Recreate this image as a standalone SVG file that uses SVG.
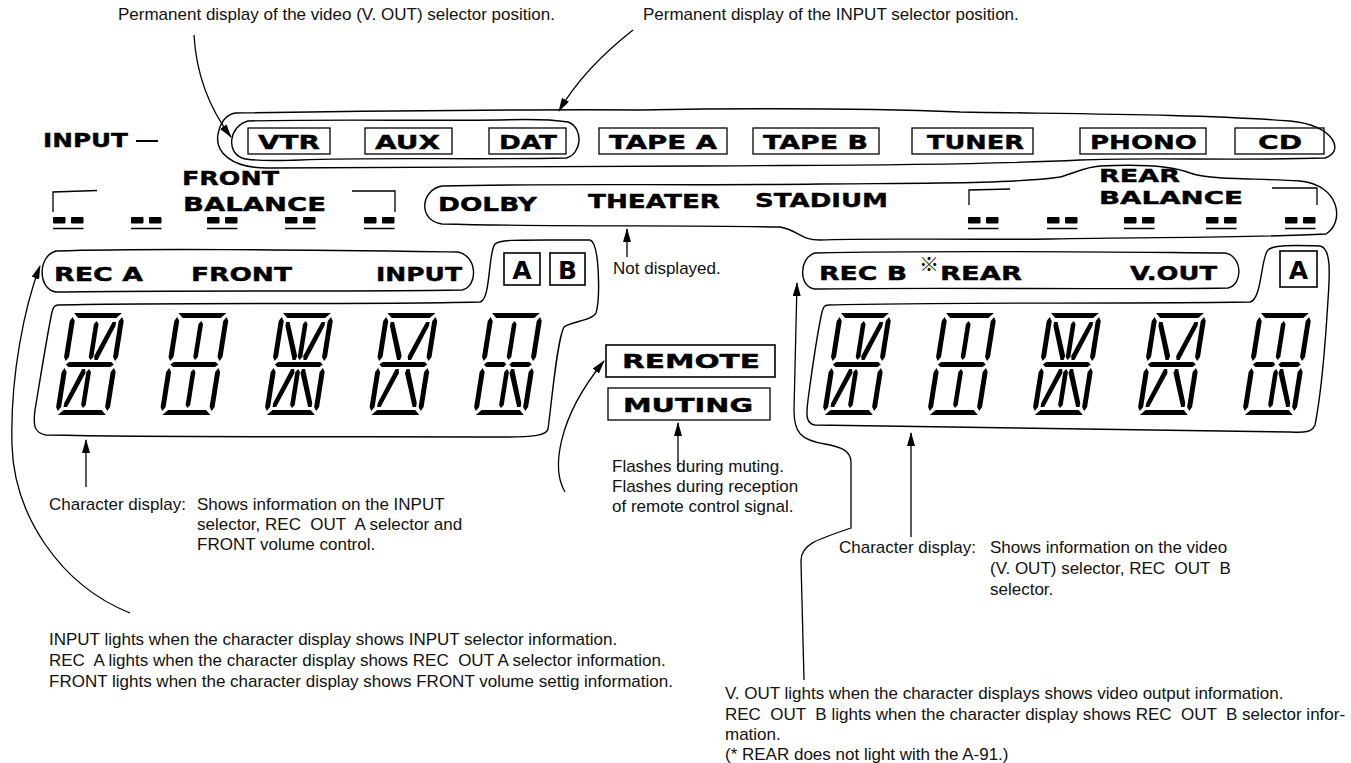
<svg xmlns="http://www.w3.org/2000/svg" xmlns:xlink="http://www.w3.org/1999/xlink" width="1351" height="763" viewBox="0 0 1351 763">
  <style>
    .lbl { font-family: "DejaVu Sans", "Liberation Sans", sans-serif; font-weight: bold; font-size: 20px; fill: #000; stroke: #000; stroke-width: 0.4; }
    .lbl-s { font-size: 18px; }
    .key { font-family: "DejaVu Sans", "Liberation Sans", sans-serif; font-weight: bold; font-size: 25px; fill: #000; text-anchor: middle; }
    .note { font-family: "Liberation Sans", Arial, sans-serif; font-size: 17px; fill: #111; }
    .mark { font-family: "Noto Sans CJK JP", "DejaVu Sans", sans-serif; font-size: 20px; fill: #000; }
    .loop { fill: none; stroke: #000; stroke-width: 1.4; stroke-linejoin: round; }
    .box { fill: none; stroke: #000; stroke-width: 1.3; }
    .kbox { fill: none; stroke: #000; stroke-width: 1.6; }
    .brk { fill: none; stroke: #000; stroke-width: 1.3; }
    .conn { fill: none; stroke: #000; stroke-width: 1.3; marker-end: url(#ah); }
    .seg { fill: #000; }
  </style>
  <defs>
    <marker id="ah" viewBox="0 0 14 8" refX="13" refY="4" markerWidth="14" markerHeight="8" markerUnits="userSpaceOnUse" orient="auto">
      <path d="M0,0 L14,4 L0,8 Z" fill="#000"/>
    </marker>
    <!-- balance level indicator: two dots over a bar -->
    <g id="bal">
      <rect x="0" y="0" width="12.5" height="6.5" rx="1" class="seg"/>
      <rect x="18" y="0" width="12.5" height="6.5" rx="1" class="seg"/>
      <line x1="0" y1="11.5" x2="30.5" y2="11.5" stroke="#000" stroke-width="1.5"/>
    </g>
    <!-- 14-segment character cell, 54 x 102, skewed when placed -->
    <polygon id="sT" class="seg" points="3,0 51,0 46,5 8,5"/>
    <polygon id="sB" class="seg" points="8,97 46,97 51,102 3,102"/>
    <polygon id="sM" class="seg" points="6,49 48,49 51,51.5 48,54 6,54 3,51.5"/>
    <polygon id="sML" class="seg" points="6,49 23,49 25.5,51.5 23,54 6,54 3,51.5"/>
    <polygon id="sMR" class="seg" points="31,49 48,49 51,51.5 48,54 31,54 28.5,51.5"/>
    <polygon id="sUL" class="seg" points="2.3,4 5,8 5,44 2.3,48 0,44 0,8"/>
    <polygon id="sUR" class="seg" points="51.7,4 54,8 54,44 51.7,48 49,44 49,8"/>
    <polygon id="sLL" class="seg" points="2.3,55 5,59 5,94 2.3,98 0,94 0,59"/>
    <polygon id="sLR" class="seg" points="51.7,55 54,59 54,94 51.7,98 49,94 49,59"/>
    <polygon id="sUC" class="seg" points="27,8 29.3,11 29.3,44 27,47 24.7,44 24.7,11"/>
    <polygon id="sLC" class="seg" points="27,56 29.3,59 29.3,92 27,95 24.7,92 24.7,59"/>
    <polygon id="sULd" class="seg" points="7.5,9 11,9 24,43 23,47 20,47 7.5,13"/>
    <polygon id="sURd" class="seg" points="46.5,9 43,9 30,43 31,47 34,47 46.5,13"/>
    <polygon id="sLLd" class="seg" points="7.5,94 11,94 24,60 23,56 20,56 7.5,90"/>
    <polygon id="sLRd" class="seg" points="46.5,94 43,94 30,60 31,56 34,56 46.5,90"/>
    <g id="ch1"><use href="#sT"/><use href="#sUL"/><use href="#sUC"/><use href="#sURd"/><use href="#sUR"/><use href="#sM"/><use href="#sLL"/><use href="#sLLd"/><use href="#sLC"/><use href="#sLR"/><use href="#sB"/></g>
    <g id="ch2"><use href="#sT"/><use href="#sUL"/><use href="#sUC"/><use href="#sUR"/><use href="#sM"/><use href="#sLL"/><use href="#sLC"/><use href="#sLR"/><use href="#sB"/></g>
    <g id="ch3"><use href="#sT"/><use href="#sUL"/><use href="#sULd"/><use href="#sUC"/><use href="#sURd"/><use href="#sUR"/><use href="#sM"/><use href="#sLL"/><use href="#sLLd"/><use href="#sLC"/><use href="#sLRd"/><use href="#sLR"/><use href="#sB"/></g>
    <g id="ch4"><use href="#sT"/><use href="#sUL"/><use href="#sULd"/><use href="#sURd"/><use href="#sUR"/><use href="#sM"/><use href="#sLL"/><use href="#sLLd"/><use href="#sLRd"/><use href="#sLR"/><use href="#sB"/></g>
    <g id="ch5"><use href="#sT"/><use href="#sUL"/><use href="#sUC"/><use href="#sUR"/><use href="#sML"/><use href="#sMR"/><use href="#sLL"/><use href="#sLC"/><use href="#sLRd"/><use href="#sLR"/><use href="#sB"/></g>
  </defs>

  <rect width="1351" height="763" fill="#fff"/>

  <!-- captions above the panel -->
  <g id="caption-vout">
    <text class="note" x="118" y="20">Permanent display of the video (V. OUT) selector position.</text>
  </g>
  <g id="caption-input">
    <text class="note" x="643" y="20">Permanent display of the INPUT selector position.</text>
  </g>

  <!-- INPUT selector row -->
  <g id="input-label">
    <text class="lbl" x="43" y="147" textLength="85" lengthAdjust="spacingAndGlyphs">INPUT</text>
    <line x1="136" y1="141" x2="158" y2="141" stroke="#000" stroke-width="2"/>
  </g>
  <g id="input-loop">
    <path class="loop" d="M236 113 C380 111 520 109 640 110 C760 108 860 108 960 112 C1080 114 1200 114 1290 121 C1335 125 1345 152 1325 158 C1230 161 1150 157 1080 160 C960 166 820 165 700 166 C560 168 420 166 270 168 C232 169 212 152 219 130 C222 120 228 114 236 113 Z"/>
  </g>
  <g id="video-loop">
    <path class="loop" d="M248 121 C330 119 420 121 500 120 C530 119 555 120 568 122 C584 128 582 154 566 158 C470 160 380 157 300 160 C270 161 250 161 242 158 C226 152 229 126 248 121 Z"/>
  </g>
  <g id="sel-vtr"><rect class="box" x="248" y="128" width="82" height="26"/><text class="lbl" x="258" y="149" textLength="62" lengthAdjust="spacingAndGlyphs">VTR</text></g>
  <g id="sel-aux"><rect class="box" x="365" y="128" width="87" height="26"/><text class="lbl" x="375" y="149" textLength="65" lengthAdjust="spacingAndGlyphs">AUX</text></g>
  <g id="sel-dat"><rect class="box" x="489" y="128" width="77" height="26"/><text class="lbl" x="499" y="149" textLength="58" lengthAdjust="spacingAndGlyphs">DAT</text></g>
  <g id="sel-tapea"><rect class="box" x="599" y="128" width="128" height="26"/><text class="lbl" x="609" y="149" textLength="108" lengthAdjust="spacingAndGlyphs">TAPE A</text></g>
  <g id="sel-tapeb"><rect class="box" x="753" y="128" width="126" height="26"/><text class="lbl" x="763" y="149" textLength="105" lengthAdjust="spacingAndGlyphs">TAPE B</text></g>
  <g id="sel-tuner"><rect class="box" x="912" y="128" width="121" height="26"/><text class="lbl" x="927" y="149" textLength="97" lengthAdjust="spacingAndGlyphs">TUNER</text></g>
  <g id="sel-phono"><rect class="box" x="1080" y="128" width="126" height="26"/><text class="lbl" x="1090" y="149" textLength="107" lengthAdjust="spacingAndGlyphs">PHONO</text></g>
  <g id="sel-cd"><rect class="box" x="1235" y="128" width="89" height="26"/><text class="lbl" x="1258" y="149" textLength="44" lengthAdjust="spacingAndGlyphs">CD</text></g>

  <!-- front balance -->
  <g id="front-balance">
    <text class="lbl" x="182" y="185" textLength="97" lengthAdjust="spacingAndGlyphs">FRONT</text>
    <text class="lbl" x="183" y="211" textLength="143" lengthAdjust="spacingAndGlyphs">BALANCE</text>
    <path class="brk" d="M53 212 L53 192 L97 190.5"/>
    <path class="brk" d="M352 191 L395 191 L395 212"/>
    <use href="#bal" x="53" y="217"/>
    <use href="#bal" x="131" y="217"/>
    <use href="#bal" x="207" y="217"/>
    <use href="#bal" x="285" y="217"/>
    <use href="#bal" x="364" y="217"/>
  </g>

  <!-- surround modes and rear balance -->
  <g id="surround-loop">
    <path class="loop" d="M442 186 C560 183 700 186 820 184 C920 183 1010 184 1060 177 C1075 173 1085 167 1100 166 C1140 164 1170 165 1190 173 C1210 180 1250 178 1300 181 C1340 185 1345 222 1326 234 C1250 238 1150 237 1050 239 C950 240 870 238 820 240 C800 240 798 230 780 227 C680 225 560 227 442 224 C418 221 420 190 442 186 Z"/>
  </g>
  <g id="mode-dolby"><text class="lbl" x="438" y="211" textLength="99" lengthAdjust="spacingAndGlyphs">DOLBY</text></g>
  <g id="mode-theater"><text class="lbl" x="588" y="208" textLength="132" lengthAdjust="spacingAndGlyphs">THEATER</text></g>
  <g id="mode-stadium"><text class="lbl" x="755" y="207" textLength="133" lengthAdjust="spacingAndGlyphs">STADIUM</text></g>
  <g id="rear-balance">
    <text class="lbl lbl-s" x="1099" y="182" textLength="81" lengthAdjust="spacingAndGlyphs">REAR</text>
    <text class="lbl lbl-s" x="1099" y="204" textLength="144" lengthAdjust="spacingAndGlyphs">BALANCE</text>
    <path class="brk" d="M969 205 L969 190 L1010 189"/>
    <path class="brk" d="M1272 188 L1317 188 L1317 205"/>
    <use href="#bal" x="968" y="217"/>
    <use href="#bal" x="1047" y="217"/>
    <use href="#bal" x="1124" y="217"/>
    <use href="#bal" x="1206" y="217"/>
    <use href="#bal" x="1285" y="217"/>
  </g>
  <g id="note-notdisplayed">
    <text class="note" x="613" y="274">Not displayed.</text>
  </g>

  <!-- front (A) character display -->
  <g id="display-a">
    <path class="loop" d="M58 305 C200 302 350 305 480 302 C491 300 488 252 495 244 C500 239 520 240 590 240 C600 243 600 300 596 313 C592 321 572 321 564 327 C557 340 552 400 548 429 C546 436 532 437 500 437 C350 436 200 438 46 435 C34 433 33 425 35 410 C40 380 48 330 52 312 C53 307 55 305 58 305 Z"/>
    <path class="loop" d="M56 251 C150 248 300 250 458 252 C478 256 478 287 462 290 C350 292 200 290 56 292 C38 290 37 256 56 251 Z"/>
    <text class="lbl" x="54" y="281" textLength="89" lengthAdjust="spacingAndGlyphs">REC A</text>
    <text class="lbl" x="191" y="281" textLength="101" lengthAdjust="spacingAndGlyphs">FRONT</text>
    <text class="lbl" x="376" y="281" textLength="86" lengthAdjust="spacingAndGlyphs">INPUT</text>
    <rect class="kbox" x="504" y="253" width="36" height="32"/>
    <text class="key" x="522" y="279">A</text>
    <rect class="kbox" x="550" y="253" width="35" height="32"/>
    <text class="key" x="567.5" y="279">B</text>
    <use href="#ch1" transform="translate(71 313) skewX(-9)"/>
    <use href="#ch2" transform="translate(175.5 313) skewX(-9)"/>
    <use href="#ch3" transform="translate(280 313) skewX(-9)"/>
    <use href="#ch4" transform="translate(384.5 313) skewX(-9)"/>
    <use href="#ch5" transform="translate(489 313) skewX(-9)"/>
  </g>

  <!-- indicators -->
  <g id="ind-remote">
    <rect class="kbox" x="606" y="345" width="169" height="32"/>
    <text class="lbl" x="622" y="368" textLength="138" lengthAdjust="spacingAndGlyphs">REMOTE</text>
  </g>
  <g id="ind-muting">
    <rect class="box" x="608" y="388" width="162" height="32"/>
    <text class="lbl" x="623" y="412" textLength="130" lengthAdjust="spacingAndGlyphs">MUTING</text>
  </g>
  <g id="note-flashes">
    <text class="note" x="612" y="472">Flashes during muting.</text>
    <text class="note" x="612" y="492">Flashes during reception</text>
    <text class="note" x="612" y="512">of remote control signal.</text>
  </g>

  <!-- rear (B) character display -->
  <g id="display-b">
    <path class="loop" d="M828 305 C950 302 1100 304 1250 302 C1262 300 1261 256 1268 250 C1273 245 1290 245 1320 246 C1331 248 1330 272 1328 300 C1325 350 1320 400 1315 425 C1312 432 1305 433 1290 432 C1100 430 950 428 815 425 C806 424 806 415 808 400 C812 370 818 330 822 312 C823 307 825 305 828 305 Z"/>
    <path class="loop" d="M815 253 C950 250 1100 252 1225 253 C1243 256 1243 285 1228 288 C1100 290 950 287 815 289 C799 288 798 258 815 253 Z"/>
    <text class="lbl" x="819" y="280" textLength="88" lengthAdjust="spacingAndGlyphs">REC B</text>
    <text class="mark" x="919" y="272">※</text>
    <text class="lbl" x="940" y="280" textLength="82" lengthAdjust="spacingAndGlyphs">REAR</text>
    <text class="lbl" x="1130" y="280" textLength="87" lengthAdjust="spacingAndGlyphs">V.OUT</text>
    <rect class="kbox" x="1280" y="251" width="37" height="36"/>
    <text class="key" x="1298.5" y="279">A</text>
    <use href="#ch1" transform="translate(838 313) skewX(-9)"/>
    <use href="#ch2" transform="translate(943 313) skewX(-9)"/>
    <use href="#ch3" transform="translate(1048 313) skewX(-9)"/>
    <use href="#ch4" transform="translate(1153 313) skewX(-9)"/>
    <use href="#ch5" transform="translate(1258 313) skewX(-9)"/>
  </g>

  <!-- explanatory notes -->
  <g id="note-display-a">
    <text class="note" x="49" y="510">Character display:</text>
    <text class="note" x="197" y="510">Shows information on the INPUT</text>
    <text class="note" x="197" y="530" xml:space="preserve">selector, REC  OUT  A selector and</text>
    <text class="note" x="197" y="550">FRONT volume control.</text>
  </g>
  <g id="note-display-b">
    <text class="note" x="839" y="553">Character display:</text>
    <text class="note" x="990" y="553">Shows information on the video</text>
    <text class="note" x="990" y="574" xml:space="preserve">(V. OUT) selector, REC  OUT  B</text>
    <text class="note" x="990" y="595">selector.</text>
  </g>
  <g id="note-lights-a">
    <text class="note" x="49" y="645">INPUT lights when the character display shows INPUT selector information.</text>
    <text class="note" x="49" y="666" xml:space="preserve">REC  A lights when the character display shows REC  OUT A selector information.</text>
    <text class="note" x="49" y="687">FRONT lights when the character display shows FRONT volume settig information.</text>
  </g>
  <g id="note-lights-b">
    <text class="note" x="725" y="699">V. OUT lights when the character displays shows video output information.</text>
    <text class="note" x="725" y="720" xml:space="preserve">REC  OUT  B lights when the character display shows REC  OUT  B selector infor-</text>
    <text class="note" x="725" y="740">mation.</text>
    <text class="note" x="725" y="760">(* REAR does not light with the A-91.)</text>
  </g>

  <!-- leader lines -->
  <g id="connectors">
    <path class="conn" d="M194 35 C196 70 206 104 231 137"/>
    <path class="conn" d="M633 30 C605 52 578 78 559 111"/>
    <path class="conn" d="M627 257 L627 229"/>
    <path class="conn" d="M86 487 L86 440"/>
    <path class="conn" d="M130 613 C60 585 14 515 12 445 C10 375 25 305 40 266"/>
    <path class="conn" d="M565 492 C552 470 556 420 604 361"/>
    <path class="conn" d="M678 467 L678 423"/>
    <path class="conn" d="M911 537 L911 433"/>
    <path class="conn" d="M804 680 L801 562 C800 545 815 540 851 528 L851 462 C851 450 840 447 825 444 C800 440 794 432 794 410 L797 283"/>
  </g>
</svg>
